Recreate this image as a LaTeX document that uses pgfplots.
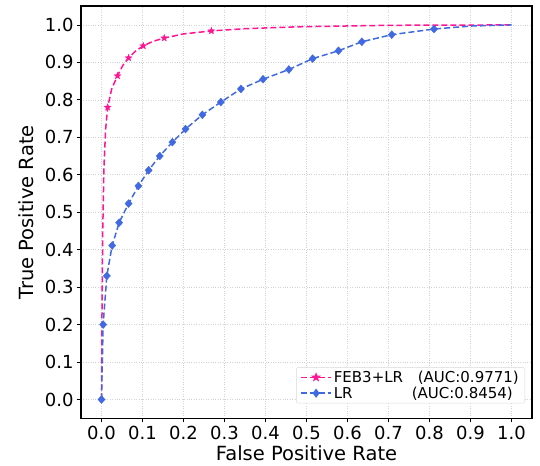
\documentclass[border=0pt]{standalone}
\usepackage{fontspec}
\setmainfont{DejaVu Sans}
\usepackage{pgfplots}
\pgfplotsset{compat=1.18}

\definecolor{febpink}{HTML}{FF1493}
\definecolor{lrblue}{HTML}{4169E1}

% filled five-pointed star, like matplotlib's '*'
\pgfdeclareplotmark{fstar}{%
  \pgfpathmoveto{\pgfpointpolar{90}{\pgfplotmarksize}}%
  \pgfpathlineto{\pgfpointpolar{126}{0.42*\pgfplotmarksize}}%
  \pgfpathlineto{\pgfpointpolar{162}{\pgfplotmarksize}}%
  \pgfpathlineto{\pgfpointpolar{198}{0.42*\pgfplotmarksize}}%
  \pgfpathlineto{\pgfpointpolar{234}{\pgfplotmarksize}}%
  \pgfpathlineto{\pgfpointpolar{270}{0.42*\pgfplotmarksize}}%
  \pgfpathlineto{\pgfpointpolar{306}{\pgfplotmarksize}}%
  \pgfpathlineto{\pgfpointpolar{342}{0.42*\pgfplotmarksize}}%
  \pgfpathlineto{\pgfpointpolar{18}{\pgfplotmarksize}}%
  \pgfpathlineto{\pgfpointpolar{54}{0.42*\pgfplotmarksize}}%
  \pgfpathclose
  \pgfusepathqfillstroke
}

\pgfplotsset{
  febline/.style={febpink, line width=1.5pt, dash pattern=on 6pt off 3pt},
  lrline/.style={lrblue, line width=1.5pt, dash pattern=on 6pt off 3pt},
  febmark/.style={febpink, mark=fstar, mark size=3.6pt, mark options={solid, line width=0.3pt}},
  lrmark/.style={lrblue, mark=diamond*, mark size=4pt, mark options={solid, xscale=1.2, line width=0.3pt}},
}

% curve points (line) and marker points
\pgfplotstableread{
x y
0 0
0.001 0.20
0.003 0.45
0.006 0.62
0.010 0.72
0.015 0.780
0.025 0.830
0.039 0.864
0.052 0.892
0.066 0.912
0.083 0.930
0.102 0.944
0.125 0.956
0.153 0.965
0.200 0.976
0.268 0.984
0.350 0.990
0.480 0.995
0.700 0.999
1.000 1.000
}\febcurve

\pgfplotstableread{
x y
0.015 0.780
0.039 0.864
0.066 0.912
0.102 0.944
0.153 0.965
0.268 0.984
}\febmarks

\pgfplotstableread{
x y
0.000 0.000
0.004 0.200
0.013 0.330
0.026 0.411
0.043 0.472
0.066 0.523
0.090 0.570
0.115 0.612
0.142 0.650
0.173 0.687
0.205 0.722
0.246 0.760
0.291 0.794
0.340 0.829
0.394 0.855
0.457 0.881
0.515 0.910
0.578 0.931
0.635 0.955
0.708 0.974
0.811 0.989
}\lrmarks

\pgfplotstableread{
x y
0.000 0.000
0.004 0.200
0.013 0.330
0.026 0.411
0.043 0.472
0.066 0.523
0.090 0.570
0.115 0.612
0.142 0.650
0.173 0.687
0.205 0.722
0.246 0.760
0.291 0.794
0.340 0.829
0.394 0.855
0.457 0.881
0.515 0.910
0.578 0.931
0.635 0.955
0.708 0.974
0.811 0.989
0.900 0.997
1.000 1.000
}\lrcurve

\begin{document}
\begin{tikzpicture}
\begin{axis}[
  scale only axis,
  width=451pt, height=412pt,
  xmin=-0.05, xmax=1.05, ymin=-0.05, ymax=1.05,
  xtick={0,0.1,0.2,0.3,0.4,0.5,0.6,0.7,0.8,0.9,1.0},
  ytick={0,0.1,0.2,0.3,0.4,0.5,0.6,0.7,0.8,0.9,1.0},
  xticklabel={\pgfmathprintnumber[fixed,fixed zerofill,precision=1,assume math mode=true]{\tick}},
  yticklabel={\pgfmathprintnumber[fixed,fixed zerofill,precision=1,assume math mode=true]{\tick}},
  tick label style={font=\fontsize{18}{21}\selectfont},
  xlabel={False Positive Rate},
  ylabel={True Positive Rate},
  label style={font=\fontsize{19.5}{22}\selectfont},
  ylabel style={yshift=4pt},
  xlabel style={yshift=-1.5pt, inner sep=1pt},
  grid=major,
  grid style={dotted, gray!35, line width=0.6pt},
  axis line style={black, line width=1.4pt},
  tick pos=left, tick align=outside,
  major tick length=4pt,
  tick style={black, line width=0.8pt},
  legend style={at={(0.9845,0.036)}, anchor=south east,
    draw=gray!30, rounded corners=2pt, fill=white,
    font=\fontsize{15}{17}\selectfont,
    inner xsep=4pt, inner ysep=1.5pt, row sep=-1pt,
    cells={anchor=west}},
  legend image code/.code={%
    \draw[mark repeat=2, mark phase=2, #1] plot coordinates {(0pt,0pt) (15pt,0pt) (30pt,0pt)};},
]
\addplot[febline, forget plot] table {\febcurve};
\addplot[febmark, only marks, forget plot] table {\febmarks};
\addplot[lrline, forget plot] table {\lrcurve};
\addplot[lrmark, only marks, forget plot] table {\lrmarks};

\addlegendimage{febline, mark=fstar, mark size=3pt, mark options={solid, fill=febpink, draw=febpink}}
\addlegendentry{\makebox[84pt][l]{FEB3+LR}(AUC:0.9771)}
\addlegendimage{lrline, mark=diamond*, mark size=3.4pt, mark options={solid, fill=lrblue, draw=lrblue}}
\addlegendentry{\makebox[78pt][l]{LR}(AUC:0.8454)}
\end{axis}
\pgfresetboundingbox
\path ([xshift=-81pt,yshift=-47.5pt]current axis.south west) rectangle ([xshift=8pt,yshift=6.2pt]current axis.north east);
\end{tikzpicture}
\end{document}
